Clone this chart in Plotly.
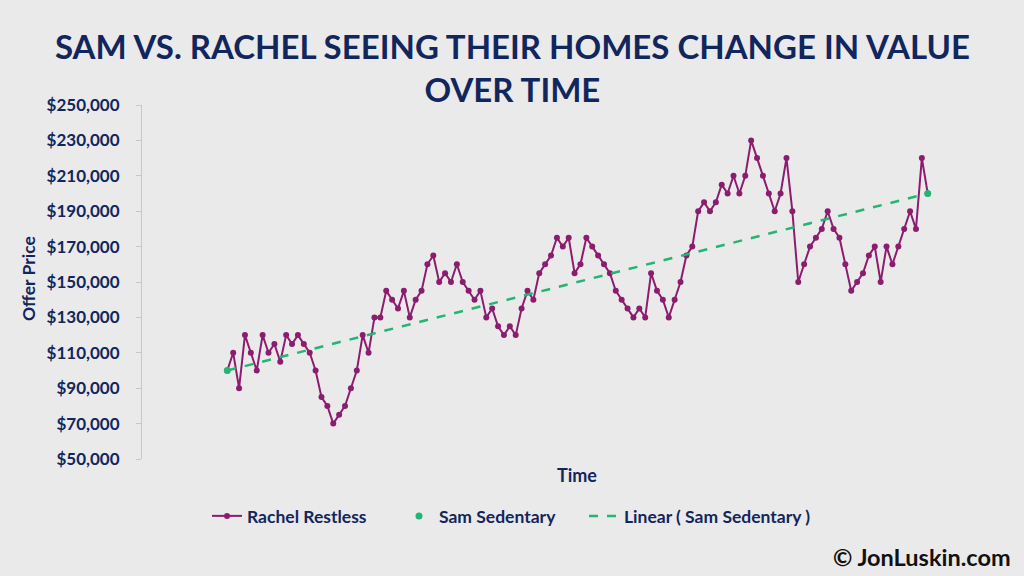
import numpy as np
import plotly.graph_objects as go

# ---------------- data ----------------
time_index = list(range(120))
rachel_restless = [
    100, 110, 90, 120, 110, 100, 120, 110, 115, 105,
    120, 115, 120, 115, 110, 100, 85, 80, 70, 75,
    80, 90, 100, 120, 110, 130, 130, 145, 140, 135,
    145, 130, 140, 145, 160, 165, 150, 155, 150, 160,
    150, 145, 140, 145, 130, 135, 125, 120, 125, 120,
    135, 145, 140, 155, 160, 165, 175, 170, 175, 155,
    160, 175, 170, 165, 160, 155, 145, 140, 135, 130,
    135, 130, 155, 145, 140, 130, 140, 150, 165, 170,
    190, 195, 190, 195, 205, 200, 210, 200, 210, 230,
    220, 210, 200, 190, 200, 220, 190, 150, 160, 170,
    175, 180, 190, 180, 175, 160, 145, 150, 155, 165,
    170, 150, 170, 160, 170, 180, 190, 180, 220, 200,
]
rachel_restless = [v * 1000 for v in rachel_restless]
sam_sedentary = [100000] + [None] * 118 + [200000]

title_text = "SAM VS. RACHEL SEEING THEIR HOMES CHANGE IN VALUE<br>OVER TIME"
y_title = "Offer Price"
x_title = "Time"
watermark = "© JonLuskin.com"

# ---------------- style ----------------
NAVY = "#12265E"
PURPLE = "#8C1D6E"
GREEN = "#22B573"
BG = "#EAEAEA"
FONT = "Lato"

W, H = 1024, 576
L, R, T, B = 142, 14, 105, 117
plot_w = W - L - R
plot_h = H - T - B
step_px = 5.886
first_px = 227.3
x0 = -(first_px - L) / step_px
x1 = x0 + plot_w / step_px

def px_x(p):
    return (p - L) / plot_w

def px_y(p):
    return (H - B - p) / plot_h

# trendline from Sam's points
sx = [i for i, v in zip(time_index, sam_sedentary) if v is not None]
sy = [v for v in sam_sedentary if v is not None]
coef = np.polyfit(sx, sy, 1)
trend = np.polyval(coef, time_index)

fig = go.Figure()
fig.add_trace(go.Scatter(
    x=time_index, y=rachel_restless, mode="lines+markers", name="Rachel Restless",
    line=dict(color=PURPLE, width=2), marker=dict(color=PURPLE, size=6),
    legend="legend",
))
fig.add_trace(go.Scatter(
    x=time_index, y=sam_sedentary, mode="markers", name="Sam Sedentary",
    marker=dict(color=GREEN, size=7), legend="legend2",
))
fig.add_trace(go.Scatter(
    x=time_index, y=trend, mode="lines", name="Linear ( Sam Sedentary )",
    line=dict(color=GREEN, width=2.5, dash="dash"), legend="legend3",
))

leg_font = dict(family=FONT, size=17.5, color=NAVY, weight="bold")

def leg(px_left):
    return dict(orientation="h", x=px_x(px_left), xanchor="left", y=px_y(516),
                yanchor="middle", bgcolor="rgba(0,0,0,0)", font=leg_font)

fig.update_layout(
    width=W, height=H,
    margin=dict(l=L, r=R, t=T, b=B),
    paper_bgcolor=BG, plot_bgcolor=BG,
    font=dict(family=FONT, color=NAVY, size=15, weight="bold"),
    xaxis=dict(range=[x0, x1], showgrid=False, zeroline=False, showline=False,
               showticklabels=False, ticks=""),
    yaxis=dict(range=[50000, 250000], dtick=20000, tick0=50000, showgrid=False,
               zeroline=False, showline=True, linecolor="#C8C8C8", linewidth=1,
               ticks="outside", ticklen=5, tickcolor="#C8C8C8",
               tickprefix="$", tickformat=",", ticklabelstandoff=13,
               tickfont=dict(family=FONT, size=17, color=NAVY, weight="bold")),
    legend=leg(207),
    legend2=leg(399),
    legend3=leg(584),
    showlegend=True,
)

fig.add_annotation(text=title_text, xref="paper", yref="paper", x=px_x(512), y=px_y(68),
                   showarrow=False, xanchor="center", yanchor="middle",
                   font=dict(family=FONT, size=33, color=NAVY, weight="bold"))
fig.add_annotation(text=y_title, xref="paper", yref="paper", x=px_x(28), y=px_y(279),
                   textangle=-90, showarrow=False, xanchor="center", yanchor="middle",
                   font=dict(family=FONT, size=17.5, color=NAVY, weight="bold"))
fig.add_annotation(text=x_title, xref="paper", yref="paper", x=px_x(577), y=px_y(475),
                   showarrow=False, xanchor="center", yanchor="middle",
                   font=dict(family=FONT, size=18, color=NAVY, weight="bold"))
fig.add_annotation(text=watermark, xref="paper", yref="paper", x=px_x(1013), y=px_y(557),
                   showarrow=False, xanchor="right", yanchor="middle",
                   font=dict(family=FONT, size=23.5, color="#111111", weight="bold"))

fig.write_html("out.html")
